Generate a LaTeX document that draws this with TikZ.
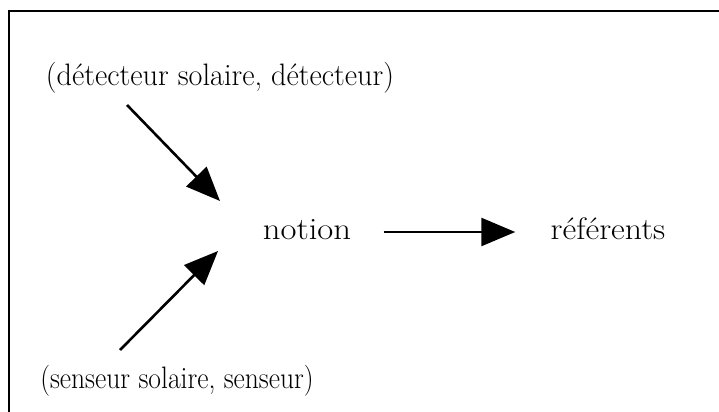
\documentclass[tikz,border=0pt]{standalone}
\usetikzlibrary{arrows.meta}
\begin{document}
\begin{tikzpicture}[x=0.5pt,y=-0.5pt,
  lbl/.style={inner sep=0pt,anchor=base,font=\fontsize{15.5}{18}\selectfont},
  arr/.style={line width=1.3pt,-{Triangle[length=17pt,width=14pt]}},
  frame/.style={line width=1.4pt}]
\useasboundingbox (0,0) rectangle (719,412);
\draw[frame] (9,412) -- (9,11) -- (719,11);
\node[lbl,xscale=0.975] (det) at (220,85) {(détecteur solaire, détecteur)};
\node[lbl,xscale=0.89] (sen) at (177,388) {(senseur solaire, senseur)};
\node[lbl,xscale=1.12] (not) at (307,239) {notion};
\node[lbl,xscale=1.087] (ref) at (608,239) {référents};
\coordinate (a1s) at (127,105);
\coordinate (a1e) at (220,201);
\coordinate (a2s) at (120,350);
\coordinate (a2e) at (218,251);
\draw[arr] (a1s) -- (a1e);
\draw[arr] (a2s) -- (a2e);
\draw[arr,shorten <=16pt,shorten >=17.5pt] (not.east |- 0,232) -- (ref.west |- 0,232);
\end{tikzpicture}
\end{document}
